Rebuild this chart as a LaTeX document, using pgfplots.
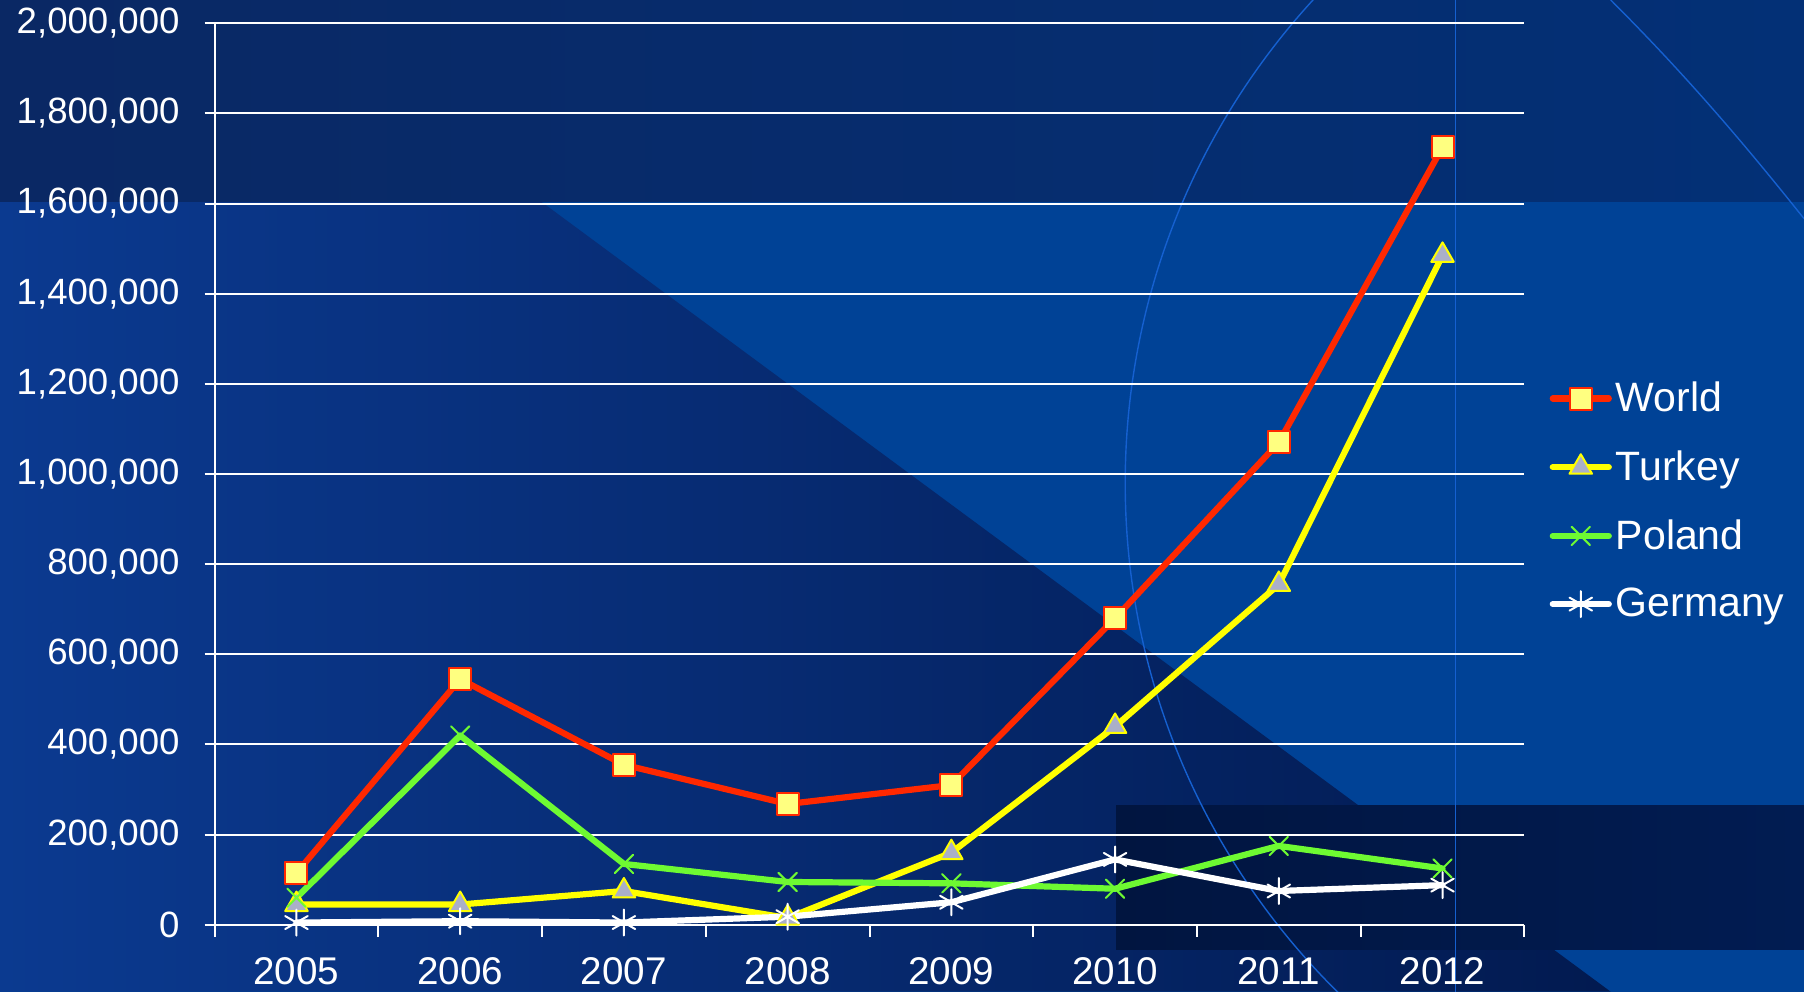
\documentclass[border=0pt]{standalone}
\usepackage{fontspec}
\setmainfont{Liberation Sans}
\usepackage{pgfplots}
\pgfplotsset{compat=1.18}

\definecolor{bgblue}{RGB}{0,66,150}
\definecolor{bandleft}{RGB}{10,40,100}
\definecolor{bandmid}{RGB}{0,73,166}
\definecolor{bandright}{RGB}{3,48,118}
\definecolor{darkleft}{RGB}{11,58,144}
\definecolor{darkmid}{RGB}{3,32,94}
\definecolor{darkright}{RGB}{2,26,80}
\definecolor{rectleft}{RGB}{1,21,64}
\definecolor{rectmid}{RGB}{4,45,115}
\definecolor{rectright}{RGB}{1,28,82}
\definecolor{arcblue}{RGB}{21,96,208}
\definecolor{worldred}{RGB}{255,40,0}
\definecolor{markfill}{RGB}{255,255,128}
\definecolor{turkeyyellow}{RGB}{255,255,0}
\definecolor{trigray}{RGB}{170,175,200}
\definecolor{polandgreen}{RGB}{110,250,50}

\begin{document}
\begin{tikzpicture}
\useasboundingbox (0,0) rectangle (902pt,496pt);

% background of the slide
\begin{scope}[x=0.57526pt,y=-0.57526pt,shift={(0pt,496pt)}]
\clip (0,0) rectangle (1568,862);
\fill[bgblue] (0,0) rectangle (1568,862);
\shade[left color=darkleft, middle color=darkmid, right color=darkright]
  (0,175) -- (470,175) -- (1400,862) -- (0,862) -- cycle;
\shade[left color=bandleft, middle color=bandmid, right color=bandright]
  (0,0) rectangle (1568,175);
\shade[left color=rectleft, middle color=rectmid, right color=rectright] (970,700) rectangle (1568,825);
\draw[arcblue, line width=0.7pt] (1600,420) circle (622);
\draw[arcblue, line width=0.7pt] (1400,0) .. controls (1470,70) and (1520,130) .. (1568,190);
\draw[arcblue, line width=0.7pt] (1265,0) -- (1265,862);
\end{scope}

\begin{axis}[
at={(107.3pt,33.6pt)}, anchor=south west,
scale only axis, width=654.9pt, height=450.8pt,
xmin=2004.5, xmax=2012.5, ymin=0, ymax=2000000,
axis x line*=bottom, axis y line*=left,
axis line style={white, line width=1pt, -},
tick align=outside,
xtick={2005,2006,2007,2008,2009,2010,2011,2012},
xticklabels={2005,2006,2007,2008,2009,2010,2011,2012},
major x tick style={draw=none},
minor xtick={2004.5,2005.5,2006.5,2007.5,2008.5,2009.5,2010.5,2011.5,2012.5},
minor x tick style={white, line width=1pt},
minor tick length=6pt,
ytick={0,200000,400000,600000,800000,1000000,1200000,1400000,1600000,1800000,2000000},
ytick style={white, line width=1pt},
major tick length=5pt,
ymajorgrids,
grid style={white, line width=1pt},
scaled y ticks=false,
/pgf/number format/assume math mode=true,
yticklabel style={white, font=\fontsize{18.3}{21}\selectfont,
  /pgf/number format/fixed, /pgf/number format/1000 sep={,}, xshift=-9pt},
xticklabel style={white, font=\fontsize{19.3}{22}\selectfont, yshift=-8pt},
legend style={at={(axis description cs:1.019,0.470)}, anchor=west,
  draw=none, fill=none, text=white, font=\fontsize{20.5}{24}\selectfont,
  row sep=14pt, inner sep=0pt},
legend cell align=left,
legend image code/.code={\draw[mark repeat=2,mark phase=2]
  plot coordinates {(0pt,0pt) (14pt,0pt) (28pt,0pt)};},
every axis plot/.append style={line cap=round, line join=round},
clip=false
]
\addplot[worldred, line width=3.1pt, mark=square*, mark size=5.5pt,
  mark options={fill=markfill, draw=worldred, line width=1pt}]
coordinates {(2005,115000) (2006,545000) (2007,355000) (2008,268000)
  (2009,310000) (2010,680000) (2011,1070000) (2012,1725000)};
\addlegendentry{World}
\addplot[turkeyyellow, line width=3.1pt, mark=triangle*, mark size=6.5pt,
  mark options={fill=trigray, draw=turkeyyellow, line width=1pt}]
coordinates {(2005,45000) (2006,45000) (2007,75000) (2008,15000)
  (2009,160000) (2010,440000) (2011,755000) (2012,1485000)};
\addlegendentry{Turkey}
\addplot[polandgreen, line width=3.1pt, mark=x, mark size=6.5pt,
  mark options={line width=1pt}]
coordinates {(2005,60000) (2006,420000) (2007,135000) (2008,95000)
  (2009,92000) (2010,80000) (2011,175000) (2012,125000)};
\addlegendentry{Poland}
\addplot[white, line width=3.1pt, mark=asterisk, mark size=6.5pt,
  mark options={line width=1pt}]
coordinates {(2005,5000) (2006,8000) (2007,5000) (2008,18000)
  (2009,50000) (2010,145000) (2011,75000) (2012,88000)};
\addlegendentry{Germany}
\end{axis}
\end{tikzpicture}
\end{document}
